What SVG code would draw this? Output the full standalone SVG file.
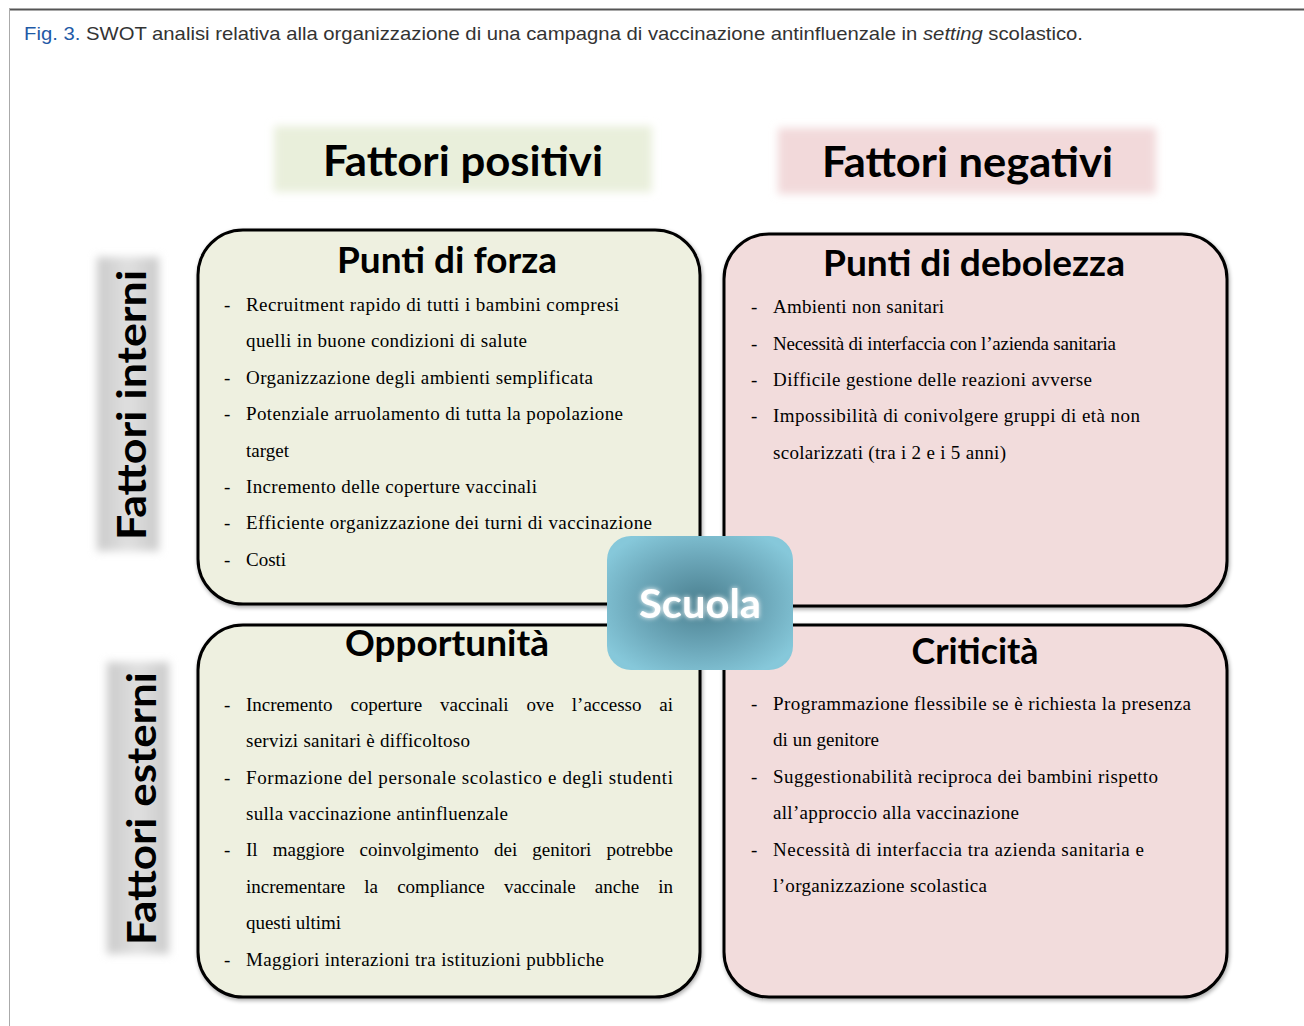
<svg xmlns="http://www.w3.org/2000/svg" width="1304" height="1026" viewBox="0 0 1304 1026">
<style>
.cap{font-family:"Liberation Sans",Arial,sans-serif;font-size:19px;fill:#333}
.hd{font-family:Lato,"Open Sans",sans-serif;font-weight:bold;fill:#000}
.side{font-family:Lato,"Open Sans",sans-serif;font-weight:bold;font-size:40px;fill:#000}
.tt{font-family:Lato,"Open Sans",sans-serif;font-weight:bold;font-size:37px;fill:#000;text-anchor:middle}
.it{font-family:"Liberation Serif","Times New Roman",serif;font-size:19px;fill:#000}
.q{stroke:#000;stroke-width:3}
.qg{fill:#eef0e0}
.qp{fill:#f2dcdc}
</style>
<defs>
<filter id="soft" x="-20%" y="-20%" width="140%" height="140%"><feGaussianBlur stdDeviation="4"/></filter>
<filter id="glow" x="-20%" y="-30%" width="140%" height="160%"><feGaussianBlur in="SourceGraphic" stdDeviation="2.5" result="b"/><feMerge><feMergeNode in="b"/><feMergeNode in="SourceGraphic"/></feMerge></filter>
<filter id="shadow" x="-10%" y="-10%" width="120%" height="120%"><feGaussianBlur in="SourceAlpha" stdDeviation="2"/><feOffset dx="1" dy="2"/><feComponentTransfer><feFuncA type="linear" slope="0.35"/></feComponentTransfer><feMerge><feMergeNode/><feMergeNode in="SourceGraphic"/></feMerge></filter>
<radialGradient id="scuolaGrad" cx="50%" cy="50%" r="60%">
<stop offset="0" stop-color="#4b8090"/>
<stop offset="0.55" stop-color="#6ba6b8"/>
<stop offset="1" stop-color="#86c8da"/>
</radialGradient>
<linearGradient id="sideGrad" x1="0" y1="0" x2="1" y2="0">
<stop offset="0" stop-color="#cacaca"/>
<stop offset="0.5" stop-color="#e0e0e0"/>
<stop offset="1" stop-color="#cacaca"/>
</linearGradient>
</defs>
<rect width="1304" height="1026" fill="#fff"/>
<g id="frame">
<line x1="9" y1="9.5" x2="1304" y2="9.5" stroke="#555" stroke-width="2"/>
<line x1="9.5" y1="9" x2="9.5" y2="1026" stroke="#aaa" stroke-width="1"/>
</g>
<g id="caption">
<text class="cap" x="24" y="40" textLength="1059" lengthAdjust="spacingAndGlyphs"><tspan fill="#1f5aa6">Fig. 3.</tspan> SWOT analisi relativa alla organizzazione di una campagna di vaccinazione antinfluenzale in <tspan font-style="italic">setting</tspan> scolastico.</text>
</g>

<g id="header-positivi">
<rect x="274" y="126" width="378" height="66" fill="#e9efdb" filter="url(#soft)"/>
<text class="hd" x="323" y="176" font-size="42" textLength="280" lengthAdjust="spacingAndGlyphs">Fattori positivi</text>
</g>
<g id="header-negativi">
<rect x="778" y="128" width="378" height="66" fill="#f2d9da" filter="url(#soft)"/>
<text class="hd" x="822" y="177" font-size="42" textLength="291" lengthAdjust="spacingAndGlyphs">Fattori negativi</text>
</g>

<g id="side-interni">
<rect x="97" y="257" width="62" height="294" fill="url(#sideGrad)" filter="url(#soft)"/>
<text class="side" transform="translate(146,540) rotate(-90)" textLength="270" lengthAdjust="spacingAndGlyphs">Fattori interni</text>
</g>
<g id="side-esterni">
<rect x="107" y="662" width="62" height="292" fill="url(#sideGrad)" filter="url(#soft)"/>
<text class="side" transform="translate(156,945) rotate(-90)" textLength="273" lengthAdjust="spacingAndGlyphs">Fattori esterni</text>
</g>

<g id="connectors"></g>

<g id="punti-di-forza">
<rect class="q qg" x="198" y="230" width="502" height="374" rx="45" filter="url(#shadow)"/>
<text class="tt" x="447" y="273" textLength="220" lengthAdjust="spacingAndGlyphs">Punti di forza</text>
<g class="it">
<text x="224" y="311">-</text><text x="246" y="311" textLength="373" lengthAdjust="spacing">Recruitment rapido di tutti i bambini compresi</text>
<text x="246" y="347" textLength="281" lengthAdjust="spacing">quelli in buone condizioni di salute</text>
<text x="224" y="384">-</text><text x="246" y="384" textLength="347" lengthAdjust="spacing">Organizzazione degli ambienti semplificata</text>
<text x="224" y="420">-</text><text x="246" y="420" textLength="377" lengthAdjust="spacing">Potenziale arruolamento di tutta la popolazione</text>
<text x="246" y="457">target</text>
<text x="224" y="493">-</text><text x="246" y="493" textLength="291" lengthAdjust="spacing">Incremento delle coperture vaccinali</text>
<text x="224" y="529">-</text><text x="246" y="529" textLength="406" lengthAdjust="spacing">Efficiente organizzazione dei turni di vaccinazione</text>
<text x="224" y="566">-</text><text x="246" y="566">Costi</text>
</g>
</g>

<g id="punti-di-debolezza">
<rect class="q qp" x="724" y="234" width="503" height="372" rx="45" filter="url(#shadow)"/>
<text class="tt" x="974" y="276" textLength="302" lengthAdjust="spacingAndGlyphs">Punti di debolezza</text>
<g class="it">
<text x="751" y="313">-</text><text x="773" y="313" textLength="171" lengthAdjust="spacing">Ambienti non sanitari</text>
<text x="751" y="350">-</text><text x="773" y="350" textLength="343" lengthAdjust="spacing">Necessità di interfaccia con l’azienda sanitaria</text>
<text x="751" y="386">-</text><text x="773" y="386" textLength="319" lengthAdjust="spacing">Difficile gestione delle reazioni avverse</text>
<text x="751" y="422">-</text><text x="773" y="422" textLength="367" lengthAdjust="spacing">Impossibilità di conivolgere gruppi di età non</text>
<text x="773" y="459" textLength="233" lengthAdjust="spacing">scolarizzati (tra i 2 e i 5 anni)</text>
</g>
</g>

<g id="opportunita">
<rect class="q qg" x="198" y="625" width="502" height="372" rx="45" filter="url(#shadow)"/>
<text class="tt" x="447" y="656" textLength="204" lengthAdjust="spacingAndGlyphs">Opportunità</text>
<g class="it">
<text x="224" y="711">-</text><text y="711"><tspan x="246">Incremento</tspan><tspan x="350.4">coperture</tspan><tspan x="440">vaccinali</tspan><tspan x="526.5">ove</tspan><tspan x="571.8">l’accesso</tspan><tspan x="659.3">ai</tspan></text>
<text x="246" y="747" textLength="224" lengthAdjust="spacing">servizi sanitari è difficoltoso</text>
<text x="224" y="784">-</text><text x="246" y="784" textLength="427" lengthAdjust="spacing">Formazione del personale scolastico e degli studenti</text>
<text x="246" y="820" textLength="262" lengthAdjust="spacing">sulla vaccinazione antinfluenzale</text>
<text x="224" y="856">-</text><text y="856"><tspan x="246">Il</tspan><tspan x="272.7">maggiore</tspan><tspan x="359.6">coinvolgimento</tspan><tspan x="494">dei</tspan><tspan x="532.3">genitori</tspan><tspan x="606.5">potrebbe</tspan></text>
<text y="893"><tspan x="246">incrementare</tspan><tspan x="364.3">la</tspan><tspan x="397.2">compliance</tspan><tspan x="503.9">vaccinale</tspan><tspan x="594.8">anche</tspan><tspan x="658.2">in</tspan></text>
<text x="246" y="929" textLength="95" lengthAdjust="spacing">questi ultimi</text>
<text x="224" y="966">-</text><text x="246" y="966" textLength="358" lengthAdjust="spacing">Maggiori interazioni tra istituzioni pubbliche</text>
</g>
</g>

<g id="criticita">
<rect class="q qp" x="724" y="625" width="503" height="372" rx="45" filter="url(#shadow)"/>
<text class="tt" x="975" y="664" textLength="127" lengthAdjust="spacingAndGlyphs">Criticità</text>
<g class="it">
<text x="751" y="710">-</text><text x="773" y="710" textLength="418" lengthAdjust="spacing">Programmazione flessibile se è richiesta la presenza</text>
<text x="773" y="746" textLength="106" lengthAdjust="spacing">di un genitore</text>
<text x="751" y="783">-</text><text x="773" y="783" textLength="385" lengthAdjust="spacing">Suggestionabilità reciproca dei bambini rispetto</text>
<text x="773" y="819" textLength="246" lengthAdjust="spacing">all’approccio alla vaccinazione</text>
<text x="751" y="856">-</text><text x="773" y="856" textLength="371" lengthAdjust="spacing">Necessità di interfaccia tra azienda sanitaria e</text>
<text x="773" y="892" textLength="214" lengthAdjust="spacing">l’organizzazione scolastica</text>
</g>
</g>

<g id="scuola">
<rect x="607" y="536" width="186" height="134" rx="24" fill="url(#scuolaGrad)"/>
<text x="700" y="618" font-family="Lato,'Open Sans',sans-serif" font-weight="bold" font-size="41" fill="#fff" text-anchor="middle" textLength="122" lengthAdjust="spacingAndGlyphs" filter="url(#glow)">Scuola</text>
</g>
</svg>
